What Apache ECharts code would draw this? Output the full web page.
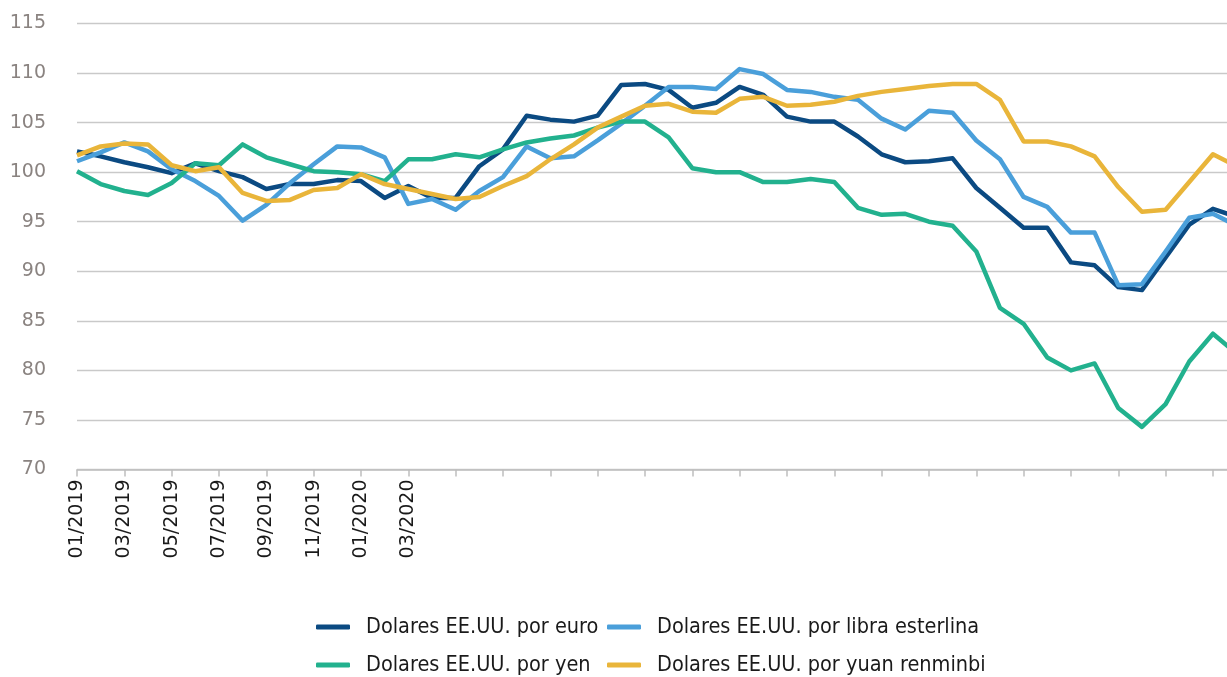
<!DOCTYPE html>
<html>
<head>
<meta charset="utf-8">
<script src="https://cdn.jsdelivr.net/npm/echarts@6/dist/echarts.min.js"></script>
<style>
  html, body { margin: 0; padding: 0; background: #ffffff; overflow: hidden; }
  /* el gráfico original está recortado por la derecha: el lienzo es algo más ancho que la ventana */
  #chart { width: 1237px; height: 677px; }
</style>
</head>
<body>
<div id="chart"></div>
<script>
// meses 01/2019 .. 02/2023
const months = [
  '01/2019', '02/2019', '03/2019', '04/2019', '05/2019', '06/2019', '07/2019', '08/2019', '09/2019', '10/2019', '11/2019', '12/2019',
  '01/2020', '02/2020', '03/2020', '04/2020', '05/2020', '06/2020', '07/2020', '08/2020', '09/2020', '10/2020', '11/2020', '12/2020',
  '01/2021', '02/2021', '03/2021', '04/2021', '05/2021', '06/2021', '07/2021', '08/2021', '09/2021', '10/2021', '11/2021', '12/2021',
  '01/2022', '02/2022', '03/2022', '04/2022', '05/2022', '06/2022', '07/2022', '08/2022', '09/2022', '10/2022', '11/2022', '12/2022',
  '01/2023', '02/2023'
];

const euro = [
  102.1, 101.6, 101.0, 100.5, 99.9, 100.9, 100.1, 99.5, 98.3, 98.8, 98.8, 99.2,
  99.1, 97.4, 98.6, 97.4, 97.4, 100.6, 102.3, 105.7, 105.3, 105.1, 105.7, 108.8,
  108.9, 108.3, 106.5, 107.0, 108.6, 107.8, 105.6, 105.1, 105.1, 103.6, 101.8, 101.0,
  101.1, 101.4, 98.4, 96.4, 94.4, 94.4, 90.9, 90.6, 88.4, 88.1, 91.4, 94.7,
  96.3, 95.5
];

const libra = [
  101.1, 102.0, 103.0, 102.1, 100.3, 99.1, 97.6, 95.1, 96.7, 98.9, 100.8, 102.6,
  102.5, 101.5, 96.8, 97.3, 96.2, 98.1, 99.5, 102.6, 101.4, 101.6, 103.2, 104.9,
  106.7, 108.6, 108.6, 108.4, 110.4, 109.9, 108.3, 108.1, 107.6, 107.3, 105.4, 104.3,
  106.2, 106.0, 103.2, 101.3, 97.5, 96.5, 93.9, 93.9, 88.6, 88.7, 92.0, 95.4,
  95.8, 94.6
];

const yen = [
  100.1, 98.8, 98.1, 97.7, 98.9, 100.9, 100.7, 102.8, 101.5, 100.8, 100.1, 100.0,
  99.8, 99.1, 101.3, 101.3, 101.8, 101.5, 102.3, 103.0, 103.4, 103.7, 104.5, 105.1,
  105.1, 103.5, 100.4, 100.0, 100.0, 99.0, 99.0, 99.3, 99.0, 96.4, 95.7, 95.8,
  95.0, 94.6, 92.0, 86.3, 84.7, 81.3, 80.0, 80.7, 76.2, 74.3, 76.6, 80.9,
  83.7, 81.7
];

const yuan = [
  101.7, 102.6, 102.9, 102.8, 100.7, 100.1, 100.5, 97.9, 97.1, 97.2, 98.2, 98.4,
  99.8, 98.8, 98.3, 97.8, 97.3, 97.5, 98.6, 99.6, 101.3, 102.8, 104.5, 105.6,
  106.7, 106.9, 106.1, 106.0, 107.4, 107.6, 106.7, 106.8, 107.1, 107.7, 108.1, 108.4,
  108.7, 108.9, 108.9, 107.3, 103.1, 103.1, 102.6, 101.6, 98.5, 96.0, 96.2, 99.0,
  101.8, 100.6
];

const names = [
  'Dolares EE.UU. por euro',
  'Dolares EE.UU. por libra esterlina',
  'Dolares EE.UU. por yen',
  'Dolares EE.UU. por yuan renminbi'
];
const colors = ['#0b4a82', '#4a9fda', '#22b18e', '#e9b53a'];

const chart = echarts.init(document.getElementById('chart'));

function makeSeries(name, data, color) {
  return {
    name: name,
    type: 'line',
    data: data,
    symbol: 'none',
    lineStyle: { color: color, width: 4.5, join: 'round' },
    itemStyle: { color: color }
  };
}

const legendText = {
  fontFamily: '"Liberation Sans Narrow", "DejaVu Sans Condensed", sans-serif',
  fontSize: 21.5,
  lineHeight: 22,
  padding: [0, 0, 0, 11],
  color: '#1a1a1a'
};

// dos columnas de leyenda para que queden alineadas
function makeLegend(left, items) {
  return {
    orient: 'vertical',
    left: left,
    top: 616,
    padding: 0,
    itemWidth: 34,
    itemHeight: 5,
    itemGap: 16,
    icon: 'roundRect',
    textStyle: legendText,
    data: items
  };
}

const option = {
  animation: false,
  color: colors,
  grid: {
    left: 77,
    right: 0.4,
    top: 23.5,
    bottom: 207.5,
    containLabel: false
  },
  legend: [
    makeLegend(316, [names[0], names[2]]),
    makeLegend(607, [names[1], names[3]])
  ],
  xAxis: {
    type: 'category',
    data: months,
    boundaryGap: false,
    axisLine: { lineStyle: { color: '#bfbfbf', width: 1.5 } },
    axisTick: {
      show: true,
      interval: 1,
      length: 7,
      lineStyle: { color: '#bfbfbf', width: 1.5 }
    },
    axisLabel: {
      interval: function (index) { return index % 2 === 0 && index <= 14; },
      rotate: 90,
      margin: 10,
      color: '#1a1a1a',
      fontFamily: 'DejaVu Sans, sans-serif',
      fontSize: 19
    },
    splitLine: { show: false }
  },
  yAxis: {
    type: 'value',
    min: 70,
    max: 115,
    interval: 5,
    axisLine: { show: false },
    axisTick: { show: false },
    axisLabel: {
      margin: 31,
      color: '#8a8380',
      fontFamily: 'DejaVu Sans, sans-serif',
      fontSize: 19
    },
    splitLine: { lineStyle: { color: '#c9c9c9', width: 1.3 } }
  },
  series: [
    makeSeries(names[0], euro, colors[0]),
    makeSeries(names[1], libra, colors[1]),
    makeSeries(names[2], yen, colors[2]),
    makeSeries(names[3], yuan, colors[3])
  ]
};

chart.setOption(option);
</script>
</body>
</html>
